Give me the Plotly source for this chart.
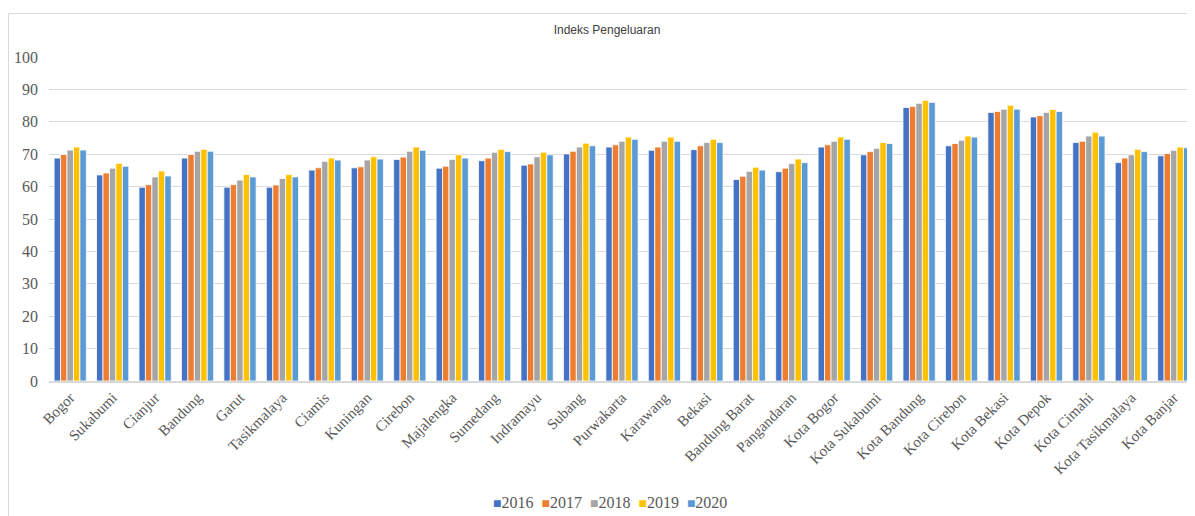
import plotly.graph_objects as go

categories = ["Bogor", "Sukabumi", "Cianjur", "Bandung", "Garut", "Tasikmalaya", "Ciamis",
              "Kuningan", "Cirebon", "Majalengka", "Sumedang", "Indramayu", "Subang",
              "Purwakarta", "Karawang", "Bekasi", "Bandung Barat", "Pangandaran",
              "Kota Bogor", "Kota Sukabumi", "Kota Bandung", "Kota Cirebon", "Kota Bekasi",
              "Kota Depok", "Kota Cimahi", "Kota Tasikmalaya", "Kota Banjar"]

v2016 = [68.8, 63.6, 59.8, 68.8, 59.8, 59.8, 65.1, 65.8, 68.4, 65.7, 68.0, 66.6, 70.1,
         72.2, 71.2, 71.4, 62.2, 64.6, 72.2, 69.8, 84.4, 72.6, 82.9, 81.5, 73.6, 67.4, 69.5]
v2017 = [69.9, 64.2, 60.6, 69.9, 60.6, 60.5, 65.8, 66.1, 69.1, 66.3, 68.8, 67.0, 70.9,
         72.9, 72.2, 72.6, 63.2, 65.7, 72.9, 70.8, 84.7, 73.3, 83.2, 81.9, 74.0, 68.8, 70.2]
v2018 = [71.3, 65.7, 63.0, 70.9, 62.0, 62.5, 67.8, 68.2, 70.9, 68.4, 70.6, 69.2, 72.2,
         74.0, 74.0, 73.6, 64.7, 67.1, 74.0, 71.8, 85.7, 74.3, 83.9, 82.9, 75.6, 69.8, 71.2]
v2019 = [72.2, 67.2, 64.8, 71.5, 63.7, 63.7, 68.8, 69.2, 72.2, 69.8, 71.5, 70.6, 73.4,
         75.3, 75.3, 74.6, 66.0, 68.5, 75.3, 73.6, 86.6, 75.6, 85.1, 83.8, 76.8, 71.5, 72.2]
v2020 = [71.3, 66.3, 63.3, 70.9, 63.0, 63.0, 68.2, 68.5, 71.2, 68.8, 70.8, 69.8, 72.6,
         74.6, 74.0, 73.6, 65.1, 67.4, 74.6, 73.3, 86.0, 75.3, 83.9, 83.2, 75.6, 70.8, 72.0]

years = ["2016", "2017", "2018", "2019", "2020"]
series = [v2016, v2017, v2018, v2019, v2020]
colors = ["#4472C4", "#ED7D31", "#A5A5A5", "#FFC000", "#5B9BD5"]
y_ticks = [0, 10, 20, 30, 40, 50, 60, 70, 80, 90, 100]

W, H = 1187, 508          # page body adds an 8px margin
L, T, B = 41, 49, 135
PW, PH = W - L, H - T - B

fig = go.Figure()
for name, vals, col in zip(years, series, colors):
    fig.add_trace(go.Bar(
        x=categories, y=vals, name=name, showlegend=False,
        marker=dict(color=col, line=dict(color="white", width=0.8)),
    ))

serif = "Liberation Serif"

legend_text = "&nbsp;&nbsp;".join(
    f"<span style='color:{c};font-size:14px'>■</span>{y}" for y, c in zip(years, colors)
)

fig.update_layout(
    width=W, height=H,
    barmode="group", bargap=0.24, bargroupgap=0.0,
    paper_bgcolor="white", plot_bgcolor="white",
    margin=dict(l=L, r=0, t=T, b=B, autoexpand=False),
    title=dict(text="Indeks Pengeluaran", x=599 / W, xanchor="center", y=1 - 22 / H,
               yanchor="middle", font=dict(family="Liberation Sans",
                                           size=12, color="#404040")),
    showlegend=False,
    xaxis=dict(tickangle=-45, tickfont=dict(family=serif, size=15, color="#595959"),
               showgrid=False, showline=True, linecolor="#d9d9d9", linewidth=2,
               ticks="", fixedrange=True, automargin=False),
    yaxis=dict(range=[0, 100], tickvals=y_ticks, tickfont=dict(family=serif, size=16, color="#595959"),
               showgrid=True, gridcolor="#d9d9d9", gridwidth=1, zeroline=False,
               showline=False, ticks="", ticklabelstandoff=10, automargin=False),
    annotations=[dict(text=legend_text, xref="paper", yref="paper",
                      x=(602 - L) / PW, y=(T + PH - 495) / PH, xanchor="center", yanchor="middle",
                      showarrow=False, font=dict(family=serif, size=16, color="#595959"))],
    shapes=[dict(type="rect", xref="paper", yref="paper",
                 x0=(0.5 - L) / PW, x1=1.02, y0=-0.6, y1=(T + PH - 5.5) / PH,
                 line=dict(color="#d9d9d9", width=1), fillcolor="rgba(0,0,0,0)",
                 layer="below")],
)

fig.write_html("out.html")
